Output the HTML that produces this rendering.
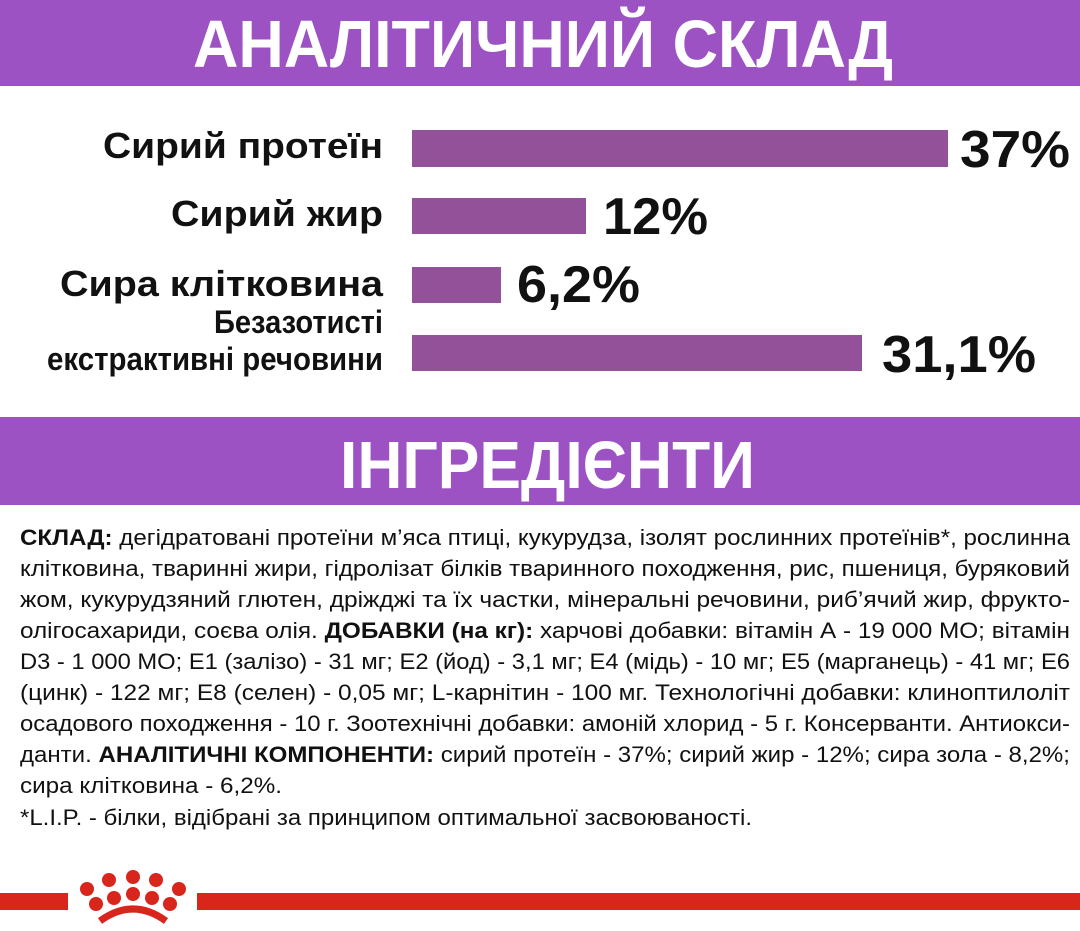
<!DOCTYPE html>
<html><head><meta charset="utf-8"><style>
html,body{margin:0;padding:0;background:#fff;}
svg{display:block;}
</style></head><body>
<svg width="1080" height="931" viewBox="0 0 1080 931" xmlns="http://www.w3.org/2000/svg" font-family="'Liberation Sans', 'Noto Sans CJK SC', sans-serif">
<rect x="0" y="0" width="1080" height="86" fill="#9d52c4"/>
<text x="193" y="67" font-size="67" font-weight="bold" fill="#fff" textLength="700" lengthAdjust="spacingAndGlyphs">АНАЛІТИЧНИЙ СКЛАД</text>

<g fill="#93519a">
<rect x="412" y="130" width="536" height="37"/>
<rect x="412" y="198" width="174" height="36"/>
<rect x="412" y="267" width="89" height="36"/>
<rect x="412" y="335" width="450" height="36"/>
</g>
<g font-weight="bold" fill="#111" font-size="36">
<text x="103" y="158" textLength="280" lengthAdjust="spacingAndGlyphs">Сирий протеїн</text>
<text x="171" y="226" textLength="212" lengthAdjust="spacingAndGlyphs">Сирий жир</text>
<text x="60" y="296" textLength="323" lengthAdjust="spacingAndGlyphs">Сира клітковина</text>
<text x="214" y="333" font-size="32" textLength="169" lengthAdjust="spacingAndGlyphs">Безазотисті</text>
<text x="47" y="370" font-size="32" textLength="336" lengthAdjust="spacingAndGlyphs">екстрактивні речовини</text>
</g>
<g font-weight="bold" fill="#111" font-size="52">
<text x="960" y="167" textLength="110" lengthAdjust="spacingAndGlyphs">37%</text>
<text x="603" y="234" textLength="105" lengthAdjust="spacingAndGlyphs">12%</text>
<text x="517" y="302" textLength="123" lengthAdjust="spacingAndGlyphs">6,2%</text>
<text x="882" y="372" textLength="154" lengthAdjust="spacingAndGlyphs">31,1%</text>
</g>

<rect x="0" y="417" width="1080" height="88" fill="#9d52c4"/>
<text x="340" y="488" font-size="67" font-weight="bold" fill="#fff" textLength="415" lengthAdjust="spacingAndGlyphs">ІНГРЕДІЄНТИ</text>

<g font-size="22" fill="#111">
<text x="20" y="545" textLength="1050" lengthAdjust="spacingAndGlyphs"><tspan font-weight="bold">СКЛАД:</tspan> дегідратовані протеїни м’яса птиці, кукурудза, ізолят рослинних протеїнів*, рослинна</text>
<text x="20" y="576" textLength="1050" lengthAdjust="spacingAndGlyphs">клітковина, тваринні жири, гідролізат білків тваринного походження, рис, пшениця, буряковий</text>
<text x="20" y="607" textLength="1050" lengthAdjust="spacingAndGlyphs">жом, кукурудзяний глютен, дріжджі та їх частки, мінеральні речовини, риб’ячий жир, фрукто-</text>
<text x="20" y="638" textLength="1050" lengthAdjust="spacingAndGlyphs">олігосахариди, соєва олія. <tspan font-weight="bold">ДОБАВКИ (на кг):</tspan> харчові добавки: вітамін А - 19 000 МО; вітамін</text>
<text x="20" y="669" textLength="1050" lengthAdjust="spacingAndGlyphs">D3 - 1 000 МО; E1 (залізо) - 31 мг; E2 (йод) - 3,1 мг; E4 (мідь) - 10 мг; E5 (марганець) - 41 мг; E6</text>
<text x="20" y="700" textLength="1050" lengthAdjust="spacingAndGlyphs">(цинк) - 122 мг; E8 (селен) - 0,05 мг; L-карнітин - 100 мг. Технологічні добавки: клиноптилоліт</text>
<text x="20" y="731" textLength="1050" lengthAdjust="spacingAndGlyphs">осадового походження - 10 г. Зоотехнічні добавки: амоній хлорид - 5 г. Консерванти. Антиокси-</text>
<text x="20" y="762" textLength="1050" lengthAdjust="spacingAndGlyphs">данти.  <tspan font-weight="bold">АНАЛІТИЧНІ КОМПОНЕНТИ:</tspan> сирий протеїн - 37%; сирий жир - 12%; сира зола - 8,2%;</text>
<text x="20" y="793" textLength="262" lengthAdjust="spacingAndGlyphs">сира клітковина - 6,2%.</text>
<text x="20" y="825" textLength="732" lengthAdjust="spacingAndGlyphs">*L.I.P. - білки, відібрані за принципом оптимальної засвоюваності.</text>
</g>

<g fill="#d9261c">
<rect x="0" y="893" width="68" height="17"/>
<rect x="197" y="893" width="883" height="17"/>
<circle cx="87" cy="889" r="7"/>
<circle cx="109" cy="880" r="7"/>
<circle cx="133" cy="877" r="7"/>
<circle cx="156" cy="880" r="7"/>
<circle cx="179" cy="889" r="7"/>
<circle cx="96" cy="904" r="7"/>
<circle cx="114" cy="898" r="7"/>
<circle cx="133" cy="894" r="7"/>
<circle cx="152" cy="898" r="7"/>
<circle cx="170" cy="904" r="7"/>
</g>
<path d="M100 921 Q133 897 166 921" stroke="#d9261c" stroke-width="7" fill="none"/>
</svg>
</body></html>
